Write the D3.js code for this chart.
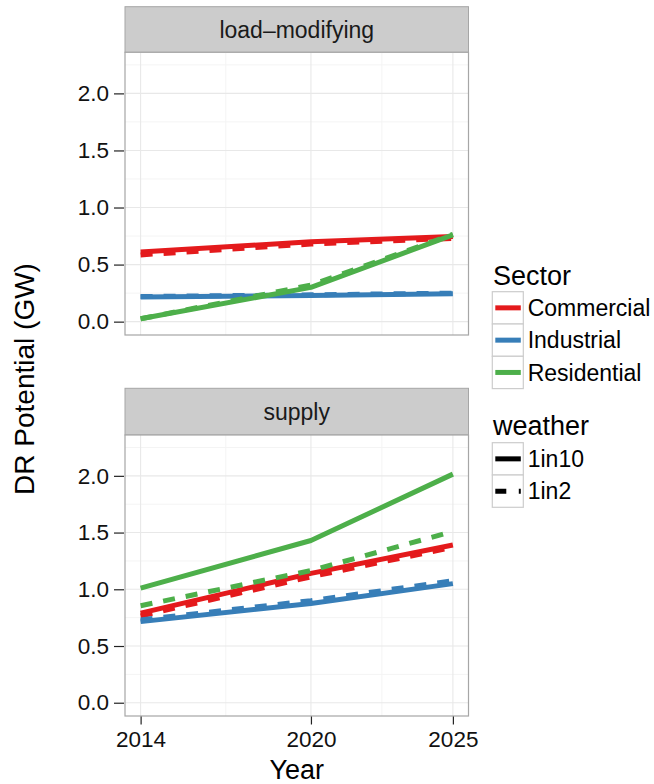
<!DOCTYPE html>
<html>
<head>
<meta charset="utf-8">
<script src="https://cdn.jsdelivr.net/npm/d3@7"></script>
<style>
  html, body { margin: 0; padding: 0; background: #fff; }
  svg { display: block; font-family: "Liberation Sans", Arial, Helvetica, sans-serif; }
</style>
</head>
<body>
<svg id="chart" width="654" height="784"></svg>
<script>
// ---------- data ----------
const years = [2014, 2020, 2025];
const facets = ["load\u2013modifying", "supply"];
const sectors = ["Commercial", "Industrial", "Residential"];
const weathers = ["1in10", "1in2"];
const xTicks = [2014, 2020, 2025];
const yTicks = [0, 0.5, 1.0, 1.5, 2.0];

// load-modifying
const lmCommercial1in10 = [0.61, 0.70, 0.745];
const lmCommercial1in2  = [0.585, 0.68, 0.73];
const lmIndustrial1in10 = [0.215, 0.23, 0.245];
const lmIndustrial1in2  = [0.22, 0.235, 0.25];
const lmResidential1in10 = [0.025, 0.30, 0.76];
const lmResidential1in2  = [0.025, 0.32, 0.765];
// supply
const spCommercial1in10 = [0.79, 1.14, 1.39];
const spCommercial1in2  = [0.765, 1.11, 1.37];
const spIndustrial1in10 = [0.715, 0.875, 1.05];
const spIndustrial1in2  = [0.73, 0.90, 1.075];
const spResidential1in10 = [1.01, 1.43, 2.015];
const spResidential1in2  = [0.855, 1.165, 1.51];

const seriesData = {
  "load\u2013modifying": {
    Commercial: { "1in10": lmCommercial1in10, "1in2": lmCommercial1in2 },
    Industrial: { "1in10": lmIndustrial1in10, "1in2": lmIndustrial1in2 },
    Residential: { "1in10": lmResidential1in10, "1in2": lmResidential1in2 }
  },
  "supply": {
    Commercial: { "1in10": spCommercial1in10, "1in2": spCommercial1in2 },
    Industrial: { "1in10": spIndustrial1in10, "1in2": spIndustrial1in2 },
    Residential: { "1in10": spResidential1in10, "1in2": spResidential1in2 }
  }
};

// ---------- styles ----------
const colors = { Commercial: "#E41A1C", Industrial: "#377EB8", Residential: "#4DAF4A" };
const dashes = { "1in10": null, "1in2": "12,11" };
const font = "\"Liberation Sans\", Arial, Helvetica, sans-serif";

const svg = d3.select("#chart");

const panelLeft = 125, panelRight = 468.5;
const panels = [
  { name: facets[0], stripTop: 6.7, top: 52.3, bottom: 335 },
  { name: facets[1], stripTop: 388.3, top: 435, bottom: 716 }
];

const x = d3.scaleLinear().domain([2013.45, 2025.55]).range([panelLeft, panelRight]);
const yDomain = [-0.117, 2.36];

const minorX = [2017, 2022.5];
const minorY = [0.25, 0.75, 1.25, 1.75, 2.25];

panels.forEach((p, pi) => {
  const y = d3.scaleLinear().domain(yDomain).range([p.bottom, p.top]);

  // strip
  svg.append("rect")
    .attr("x", panelLeft).attr("y", p.stripTop)
    .attr("width", panelRight - panelLeft).attr("height", p.top - p.stripTop)
    .attr("fill", "#CCCCCC").attr("stroke", "#A6A6A6").attr("stroke-width", 1);
  svg.append("text")
    .attr("x", (panelLeft + panelRight) / 2).attr("y", p.stripTop + 31.6)
    .attr("text-anchor", "middle").attr("font-size", 23).attr("fill", "#1a1a1a")
    .style("font-family", font)
    .text(p.name);

  // panel background
  svg.append("rect")
    .attr("x", panelLeft).attr("y", p.top)
    .attr("width", panelRight - panelLeft).attr("height", p.bottom - p.top)
    .attr("fill", "#fff");

  const g = svg.append("g");
  // minor grid
  g.selectAll(".mgy").data(minorY).enter().append("line")
    .attr("x1", panelLeft).attr("x2", panelRight)
    .attr("y1", d => y(d)).attr("y2", d => y(d))
    .attr("stroke", "#F4F4F4").attr("stroke-width", 1);
  g.selectAll(".mgx").data(minorX).enter().append("line")
    .attr("y1", p.top).attr("y2", p.bottom)
    .attr("x1", d => x(d)).attr("x2", d => x(d))
    .attr("stroke", "#F4F4F4").attr("stroke-width", 1);
  // major grid
  g.selectAll(".gy").data(yTicks).enter().append("line")
    .attr("x1", panelLeft).attr("x2", panelRight)
    .attr("y1", d => y(d)).attr("y2", d => y(d))
    .attr("stroke", "#E8E8E8").attr("stroke-width", 1.1);
  g.selectAll(".gx").data(xTicks).enter().append("line")
    .attr("y1", p.top).attr("y2", p.bottom)
    .attr("x1", d => x(d)).attr("x2", d => x(d))
    .attr("stroke", "#E8E8E8").attr("stroke-width", 1.1);

  // lines
  const line = d3.line().x((d, i) => x(years[i])).y(d => y(d));
  sectors.forEach(s => {
    weathers.forEach(w => {
      svg.append("path")
        .datum(seriesData[p.name][s][w])
        .attr("d", line)
        .attr("fill", "none")
        .attr("stroke", colors[s])
        .attr("stroke-width", 5)
        .attr("stroke-linejoin", "round")
        .attr("stroke-linecap", "butt")
        .attr("stroke-dasharray", dashes[w]);
    });
  });

  // panel border
  svg.append("rect")
    .attr("x", panelLeft).attr("y", p.top)
    .attr("width", panelRight - panelLeft).attr("height", p.bottom - p.top)
    .attr("fill", "none").attr("stroke", "#A6A6A6").attr("stroke-width", 1.2);

  // y axis
  const yAxis = d3.axisLeft(y).tickValues(yTicks).tickFormat(d3.format(".1f"))
    .tickSize(10).tickPadding(5);
  const ya = svg.append("g").attr("transform", `translate(${panelLeft - 1},0)`).call(yAxis);
  ya.select(".domain").remove();
  ya.selectAll(".tick line").attr("stroke", "#222").attr("stroke-width", 1.2);
  ya.selectAll(".tick text").attr("font-size", 22.5).attr("fill", "#111")
    .style("font-family", font);

  // x axis (bottom panel only)
  if (pi === panels.length - 1) {
    const xAxis = d3.axisBottom(x).tickValues(xTicks).tickFormat(d3.format("d"))
      .tickSize(8).tickPadding(7);
    const xa = svg.append("g").attr("transform", `translate(0,${p.bottom + 0.5})`).call(xAxis);
    xa.select(".domain").remove();
    xa.selectAll(".tick line").attr("stroke", "#222").attr("stroke-width", 1.2);
    xa.selectAll(".tick text").attr("font-size", 22.5).attr("fill", "#111")
      .style("font-family", font);
  }
});

// axis titles
svg.append("text")
  .attr("x", (panelLeft + panelRight) / 2).attr("y", 779)
  .attr("text-anchor", "middle").attr("font-size", 27).attr("fill", "#000")
  .style("font-family", font)
  .text("Year");
svg.append("text")
  .attr("transform", "translate(34,379) rotate(-90)")
  .attr("text-anchor", "middle").attr("font-size", 28).attr("fill", "#000")
  .style("font-family", font)
  .text("DR Potential (GW)");

// legends
const keyX = 492.3, keyW = 31, keyH = 32.3;
function legend(title, titleY, keysTop, items, colorFn, dashFn) {
  svg.append("text").attr("x", 493).attr("y", titleY)
    .attr("font-size", 27).attr("fill", "#000").style("font-family", font).text(title);
  items.forEach((it, i) => {
    const top = keysTop + i * keyH;
    svg.append("rect").attr("x", keyX).attr("y", top).attr("width", keyW).attr("height", keyH)
      .attr("fill", "#fff").attr("stroke", "#CCCCCC").attr("stroke-width", 1.2);
    svg.append("line").attr("x1", keyX + 3).attr("x2", keyX + keyW - 2.5)
      .attr("y1", top + keyH / 2).attr("y2", top + keyH / 2)
      .attr("stroke", colorFn(it)).attr("stroke-width", 5)
      .attr("stroke-dasharray", dashFn(it));
    svg.append("text").attr("x", 527.7).attr("y", top + keyH / 2 + 8.2)
      .attr("font-size", 23).attr("fill", "#000").style("font-family", font).text(it);
  });
}
legend("Sector", 285, 291.7, sectors, s => colors[s], () => null);
legend("weather", 435, 442.7, weathers, () => "#000", w => (w === "1in2" ? "11,12.5" : null));
</script>
</body>
</html>
